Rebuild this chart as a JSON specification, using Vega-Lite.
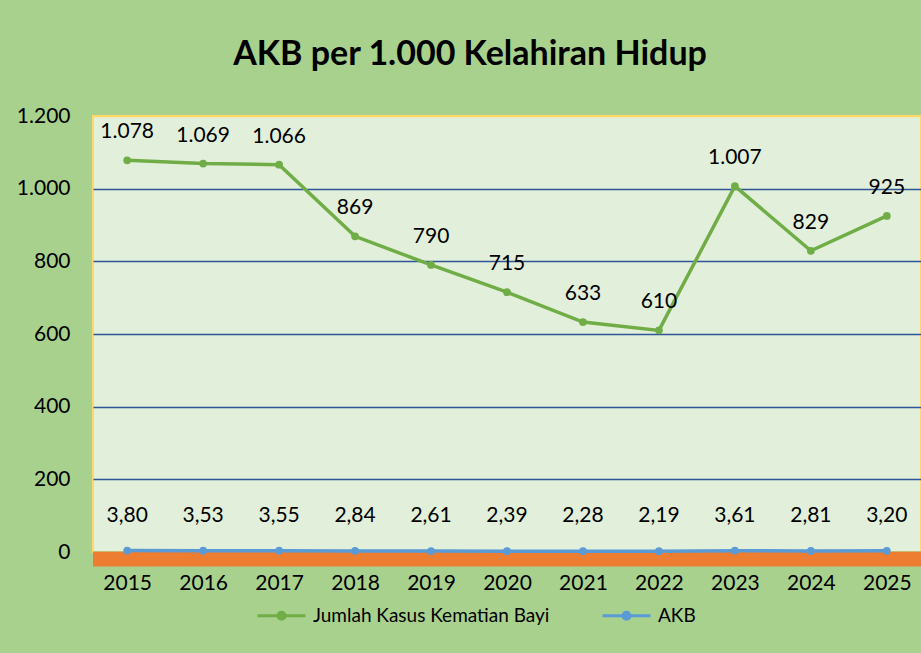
{
  "$schema": "https://vega.github.io/schema/vega-lite/v6.json",
  "autosize": "none",
  "width": 828,
  "height": 436,
  "padding": {"left": 93, "top": 116, "right": 0, "bottom": 101},
  "background": "#a9d18e",
  "config": {
    "locale": {"number": {"decimal": ",", "thousands": ".", "grouping": [3], "currency": ["Rp", ""]}},
    "font": "Lato",
    "view": {"fill": "#e2efda", "stroke": "#ffd966", "strokeWidth": 2}
  },
  "title": {
    "text": "AKB per 1.000 Kelahiran Hidup",
    "fontSize": 34,
    "fontWeight": "bold",
    "font": "Lato",
    "color": "#000000",
    "anchor": "middle",
    "dx": -37,
    "offset": 33
  },
  "data": {
    "values": [
      {"tahun": "2015", "seri": "Jumlah Kasus Kematian Bayi", "nilai": 1078},
      {"tahun": "2016", "seri": "Jumlah Kasus Kematian Bayi", "nilai": 1069},
      {"tahun": "2017", "seri": "Jumlah Kasus Kematian Bayi", "nilai": 1066},
      {"tahun": "2018", "seri": "Jumlah Kasus Kematian Bayi", "nilai": 869},
      {"tahun": "2019", "seri": "Jumlah Kasus Kematian Bayi", "nilai": 790},
      {"tahun": "2020", "seri": "Jumlah Kasus Kematian Bayi", "nilai": 715},
      {"tahun": "2021", "seri": "Jumlah Kasus Kematian Bayi", "nilai": 633},
      {"tahun": "2022", "seri": "Jumlah Kasus Kematian Bayi", "nilai": 610},
      {"tahun": "2023", "seri": "Jumlah Kasus Kematian Bayi", "nilai": 1007},
      {"tahun": "2024", "seri": "Jumlah Kasus Kematian Bayi", "nilai": 829},
      {"tahun": "2025", "seri": "Jumlah Kasus Kematian Bayi", "nilai": 925},
      {"tahun": "2015", "seri": "AKB", "nilai": 3.80},
      {"tahun": "2016", "seri": "AKB", "nilai": 3.53},
      {"tahun": "2017", "seri": "AKB", "nilai": 3.55},
      {"tahun": "2018", "seri": "AKB", "nilai": 2.84},
      {"tahun": "2019", "seri": "AKB", "nilai": 2.61},
      {"tahun": "2020", "seri": "AKB", "nilai": 2.39},
      {"tahun": "2021", "seri": "AKB", "nilai": 2.28},
      {"tahun": "2022", "seri": "AKB", "nilai": 2.19},
      {"tahun": "2023", "seri": "AKB", "nilai": 3.61},
      {"tahun": "2024", "seri": "AKB", "nilai": 2.81},
      {"tahun": "2025", "seri": "AKB", "nilai": 3.20}
    ]
  },
  "layer": [
    {
      "data": {"values": [{}]},
      "mark": {"type": "rect", "color": "#ed7d31"},
      "encoding": {
        "y": {
          "datum": 0, "type": "quantitative",
          "scale": {"domain": [0, 1200], "nice": false},
          "axis": {
            "title": null, "domain": false, "ticks": false, "values": [0, 200, 400, 600, 800, 1000, 1200],
            "format": ",.0f", "labelFontSize": 21, "labelColor": "#000000", "labelPadding": 23, "labelFont": "Lato",
            "grid": true,
            "gridColor": {"condition": {"test": "datum.value >= 1200", "value": "#ffd966"}, "value": "#2f5597"},
            "gridWidth": 1.5, "gridOpacity": 1
          }
        },
        "y2": {"datum": -40}
      }
    },
    {
      "mark": {"type": "line", "strokeWidth": 3.5, "point": {"filled": true, "size": 60}},
      "encoding": {
        "x": {
          "field": "tahun", "type": "ordinal",
          "scale": {"type": "point", "padding": 0.45},
          "axis": {"title": null, "domain": false, "ticks": false, "labelAngle": 0, "labelFontSize": 21, "labelColor": "#000000", "labelPadding": 20, "grid": false, "labelFont": "Lato"}
        },
        "y": {"field": "nilai", "type": "quantitative"},
        "color": {
          "field": "seri", "type": "nominal",
          "scale": {"domain": ["Jumlah Kasus Kematian Bayi", "AKB"], "range": ["#70ad47", "#5b9bd5"]},
          "legend": {
            "title": null, "orient": "none", "direction": "horizontal", "legendX": 163, "legendY": 474,
            "symbolType": "M -1 0 L 1 0 M -0.15 0 A 0.15 0.15 0 1 0 0.15 0 A 0.15 0.15 0 1 0 -0.15 0",
            "symbolSize": 2300, "symbolStrokeWidth": 3, "labelFontSize": 19, "labelColor": "#000000", "labelFont": "Lato",
            "labelLimit": 400, "columnPadding": 46, "labelOffset": 6,
            "encode": {"symbols": {"update": {"fill": {"scale": "color", "field": "value"}, "stroke": {"scale": "color", "field": "value"}}}}
          }
        }
      }
    },
    {
      "transform": [{"filter": "datum.seri === 'Jumlah Kasus Kematian Bayi'"}],
      "mark": {"type": "text", "dy": -28, "fontSize": 21, "color": "#000000", "font": "Lato"},
      "encoding": {
        "x": {"field": "tahun", "type": "ordinal"},
        "y": {"field": "nilai", "type": "quantitative"},
        "text": {"field": "nilai", "type": "quantitative", "format": ","}
      }
    },
    {
      "transform": [{"filter": "datum.seri === 'AKB'"}],
      "mark": {"type": "text", "dy": -35, "fontSize": 21, "color": "#000000", "font": "Lato"},
      "encoding": {
        "x": {"field": "tahun", "type": "ordinal"},
        "y": {"field": "nilai", "type": "quantitative"},
        "text": {"field": "nilai", "type": "quantitative", "format": ".2f"}
      }
    }
  ]
}
